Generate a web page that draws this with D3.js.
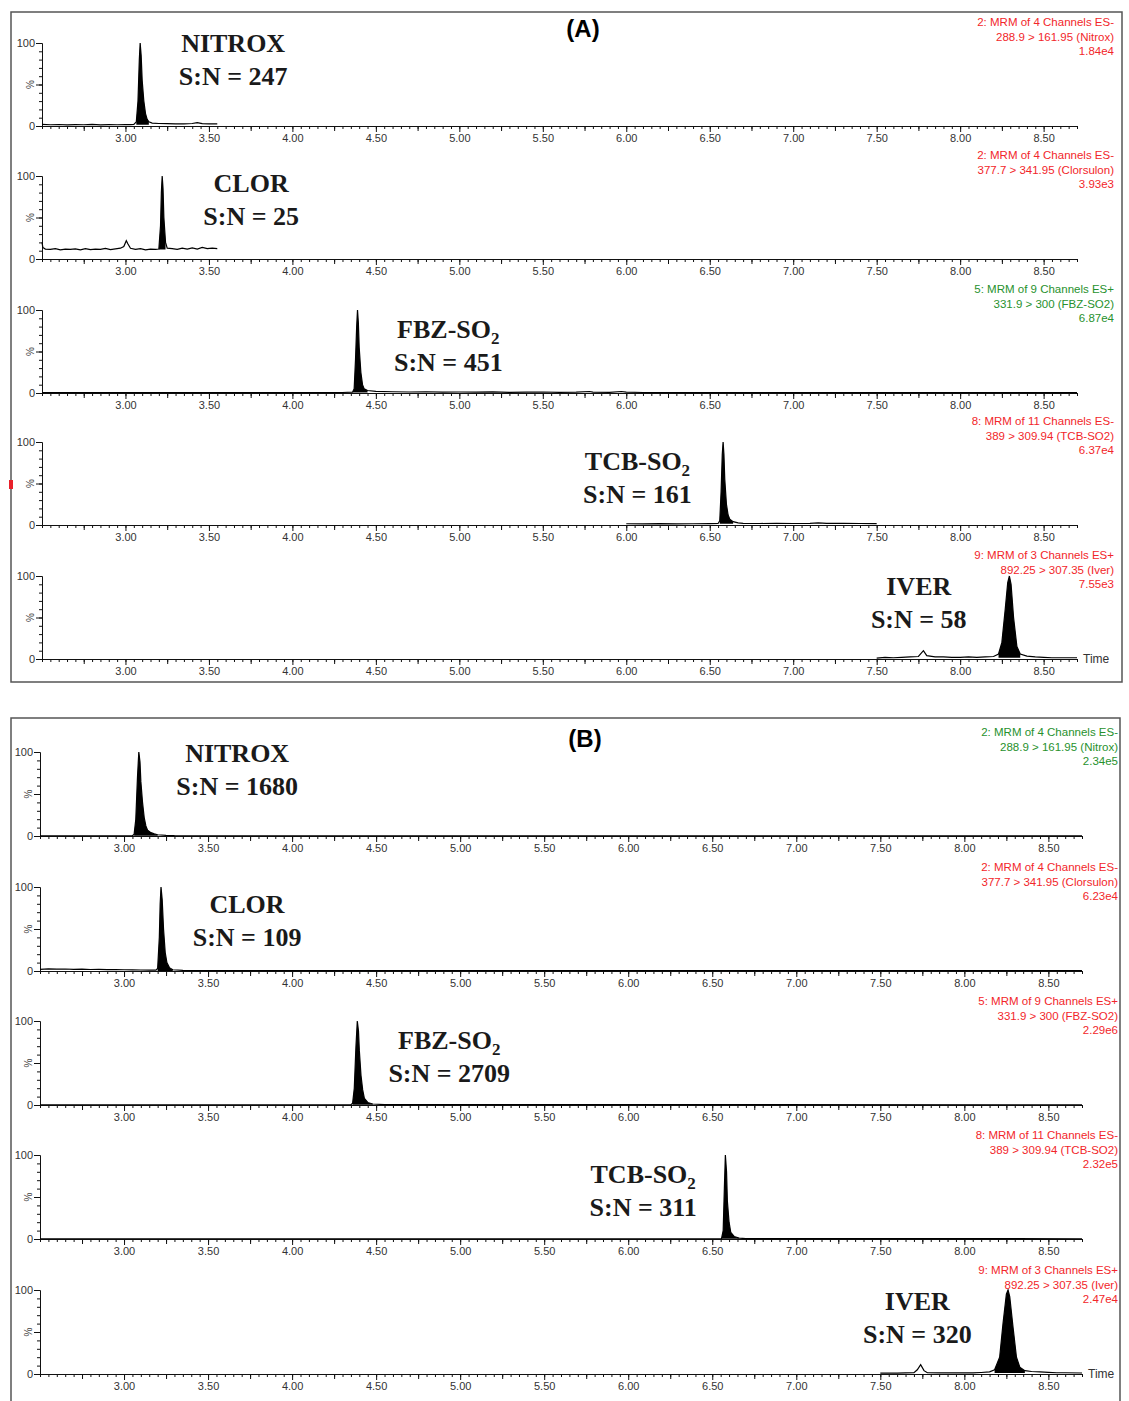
<!DOCTYPE html>
<html>
<head>
<meta charset="utf-8">
<script src="https://cdn.jsdelivr.net/npm/d3@7"></script>
<style>
  body { margin: 0; background: #fff; }
</style>
</head>
<body>
<div id="chart"></div>
<script>
// ---------- data ----------
const compounds = ["NITROX", "CLOR", "FBZ-SO2", "TCB-SO2", "IVER"];
const snA = [247, 25, 451, 161, 58];
const snB = [1680, 109, 2709, 311, 320];

const channelHeader = [
  "2: MRM of 4 Channels ES-",
  "2: MRM of 4 Channels ES-",
  "5: MRM of 9 Channels ES+",
  "8: MRM of 11 Channels ES-",
  "9: MRM of 3 Channels ES+"
];
const transitions = [
  "288.9 > 161.95 (Nitrox)",
  "377.7 > 341.95 (Clorsulon)",
  "331.9 > 300 (FBZ-SO2)",
  "389 > 309.94 (TCB-SO2)",
  "892.25 > 307.35 (Iver)"
];
const intensityA = ["1.84e4", "3.93e3", "6.87e4", "6.37e4", "7.55e3"];
const intensityB = ["2.34e5", "6.23e4", "2.29e6", "2.32e5", "2.47e4"];

const timeDomain = [2.5, 8.7];
const timeTicks = [3.0, 3.5, 4.0, 4.5, 5.0, 5.5, 6.0, 6.5, 7.0, 7.5, 8.0, 8.5];

// chromatogram traces: [time (min), % of base peak]
const traceA1 = [[2.50,2],[2.55,1.5],[2.60,1.8],[2.65,1.4],[2.70,1.7],[2.75,1.5],[2.80,1.9],[2.85,1.4],[2.90,1.6],[2.95,1.5],[3.00,1.8],[3.03,1.6],[3.05,2],[3.065,5],[3.075,30],[3.083,80],[3.088,100],[3.094,85],[3.10,55],[3.11,30],[3.12,15],[3.13,8],[3.14,5],[3.16,3.5],[3.20,3],[3.25,2.8],[3.30,2.6],[3.35,2.5],[3.40,3],[3.43,4],[3.46,2.8],[3.50,2.5],[3.55,2.5]];
const traceA2 = [[2.50,20],[2.505,14],[2.52,12],[2.55,11.5],[2.58,12.5],[2.61,11],[2.64,12],[2.67,11.5],[2.70,12.3],[2.73,11],[2.76,12.5],[2.79,11.2],[2.82,12],[2.85,11.5],[2.88,12.8],[2.91,11.3],[2.94,12.2],[2.97,13],[2.99,15],[3.005,22],[3.015,18],[3.03,13],[3.06,11.5],[3.09,12.5],[3.12,11],[3.15,12],[3.18,11.5],[3.20,12],[3.21,40],[3.215,80],[3.22,100],[3.225,85],[3.23,50],[3.24,20],[3.25,13],[3.28,12.5],[3.31,11.5],[3.34,13],[3.37,12],[3.40,13.5],[3.43,12],[3.46,14],[3.49,12.5],[3.52,13],[3.55,12.5]];
const traceA3 = [[2.50,0.5],[3.00,0.5],[3.50,0.5],[4.00,0.5],[4.30,0.6],[4.36,1],[4.37,5],[4.378,40],[4.385,80],[4.39,100],[4.395,85],[4.40,55],[4.41,25],[4.42,10],[4.43,5],[4.45,3],[4.50,2],[4.60,1.5],[4.70,1.2],[4.80,1.5],[4.90,1],[5.00,1.2],[5.10,1],[5.20,1.3],[5.30,0.8],[5.40,1],[5.50,1.2],[5.60,0.8],[5.70,1],[5.78,1.8],[5.80,1],[5.90,0.8],[5.97,1.8],[6.00,1],[6.10,0.6],[6.50,0.5],[7.00,0.5],[7.50,0.5],[8.00,0.5],[8.70,0.5]];
const traceA4 = [[6.00,1.5],[6.10,1.3],[6.20,1.6],[6.30,1.4],[6.40,1.5],[6.50,1.6],[6.55,1.8],[6.56,5],[6.568,40],[6.575,85],[6.58,100],[6.585,85],[6.59,55],[6.60,25],[6.61,12],[6.62,7],[6.64,4],[6.67,2.5],[6.70,2],[6.80,1.8],[6.90,2],[7.00,1.8],[7.10,2],[7.15,2.5],[7.20,1.9],[7.30,2],[7.40,1.8],[7.50,1.7]];
const traceA5 = [[7.50,1],[7.55,2],[7.60,1.5],[7.65,2],[7.70,2.5],[7.75,3],[7.78,10],[7.80,4],[7.85,2.5],[7.90,2.5],[7.95,2],[8.00,2],[8.05,2.5],[8.10,2],[8.15,2.5],[8.20,3],[8.23,6],[8.25,20],[8.27,60],[8.285,92],[8.295,100],[8.305,90],[8.32,50],[8.34,15],[8.36,6],[8.40,3.5],[8.45,2.5],[8.50,2],[8.55,1.5],[8.60,1.5],[8.70,1.5]];

const traceB1 = [[2.50,0.3],[3.00,0.3],[3.05,0.4],[3.06,2],[3.07,20],[3.08,70],[3.088,100],[3.095,88],[3.10,65],[3.11,40],[3.12,22],[3.13,12],[3.14,7],[3.16,4],[3.18,2.5],[3.20,1.5],[3.25,0.8],[3.30,0.5],[3.50,0.3],[8.70,0.3]];
const traceB2 = [[2.50,2],[2.55,2.5],[2.60,2.2],[2.65,2.4],[2.70,2],[2.75,2.2],[2.80,1.8],[2.85,2],[2.90,1.6],[2.95,1.8],[3.00,1.5],[3.05,1.3],[3.10,1.2],[3.15,1],[3.19,1],[3.20,3],[3.21,40],[3.215,80],[3.22,100],[3.227,85],[3.235,50],[3.245,22],[3.255,10],[3.27,4],[3.29,1.5],[3.35,0.8],[3.50,0.5],[8.70,0.5]];
const traceB3 = [[2.50,0.3],[4.00,0.3],[4.35,0.4],[4.36,2],[4.37,20],[4.38,70],[4.388,100],[4.395,88],[4.40,65],[4.41,35],[4.42,18],[4.43,8],[4.45,3],[4.48,1.2],[4.55,0.5],[8.70,0.3]];
const traceB4 = [[2.50,0.3],[6.50,0.3],[6.555,0.5],[6.565,10],[6.572,60],[6.578,100],[6.585,80],[6.59,45],[6.60,20],[6.61,8],[6.63,3],[6.66,1],[6.70,0.5],[8.70,0.3]];
const traceB5 = [[7.50,1],[7.55,1.2],[7.60,1],[7.65,1.3],[7.70,1.5],[7.72,5],[7.74,11],[7.76,4],[7.78,1.5],[7.85,1.3],[7.90,1.5],[7.95,1.3],[8.00,1.5],[8.05,1.3],[8.10,1.8],[8.15,2.5],[8.18,5],[8.21,20],[8.23,60],[8.25,95],[8.26,100],[8.27,92],[8.29,55],[8.31,20],[8.33,8],[8.36,4],[8.40,3],[8.45,2.5],[8.50,2],[8.55,1.5],[8.60,1.5],[8.70,1.2]];

// peak windows that get filled [start, end, base %]
const peaksA = [[3.06, 3.15, 1.5], [3.20, 3.245, 11.5], [4.36, 4.45, 0.5], [6.555, 6.65, 1.5], [8.22, 8.38, 1.5]];
const peaksB = [[3.055, 3.22, 0.3], [3.195, 3.29, 0], [4.355, 4.48, 0.3], [6.55, 6.67, 0.3], [8.16, 8.38, 1.2]];

// ---------- layout ----------
const W = 1129, H = 1401;
const red = "#f2262a", green = "#27912d";

const panels = [
  {
    title: "(A)", titleX: 583, titleY: 37,
    frame: [11, 12, 1111, 670],
    x0: 42, x1: 1077, rowTops: [43, 176, 310, 442, 576], rowH: 83,
    textRight: 1114, headerDy: -17,
    colors: [red, red, green, red, red],
    traces: [traceA1, traceA2, traceA3, traceA4, traceA5],
    peaks: peaksA, sn: snA, intensity: intensityA,
    labelT: [3.645, 3.753, 4.934, 6.067, 7.752],
    labelDy: [9, 16, 28, 28, 19]
  },
  {
    title: "(B)", titleX: 585, titleY: 747,
    frame: [11, 718, 1109, 700],
    x0: 40, x1: 1082, rowTops: [752, 887, 1021, 1155, 1290], rowH: 84,
    textRight: 1118, headerDy: -16,
    colors: [green, red, red, red, red],
    traces: [traceB1, traceB2, traceB3, traceB4, traceB5],
    peaks: peaksB, sn: snB, intensity: intensityB,
    labelT: [3.673, 3.732, 4.935, 6.089, 7.720],
    labelDy: [10, 26, 28, 28, 20]
  }
];

const sans = "'Liberation Sans', Arial, sans-serif";
const serif = "'Liberation Serif', 'Times New Roman', serif";

let svg = d3
  .select("#chart")
  .append("svg")
  .attr("width", W)
  .attr("height", H)
  .style("background", "#fff");

// minor / medium tick positions along the time axis
const minorTicks = d3.range(0, 125).map((i) => +(2.5 + i * 0.05).toFixed(2));
const mediumTicks = d3.range(0, 12).map((i) => 2.75 + i * 0.5);

panels.forEach(function (P) {
  // frame
  svg
    .append("rect")
    .attr("x", P.frame[0])
    .attr("y", P.frame[1])
    .attr("width", P.frame[2])
    .attr("height", P.frame[3])
    .attr("fill", "none")
    .attr("stroke", "#555")
    .attr("stroke-width", 1.5);

  svg
    .append("text")
    .attr("x", P.titleX)
    .attr("y", P.titleY)
    .attr("text-anchor", "middle")
    .style("font-family", sans)
    .style("font-weight", "bold")
    .style("font-size", "24px")
    .text(P.title);

  P.rowTops.forEach(function (top, i) {
    let x = d3.scaleLinear().domain(timeDomain).range([P.x0, P.x1]);
    let y = d3.scaleLinear().domain([0, 100]).range([top + P.rowH, top]);
    let g = svg.append("g");

    // x axis: minor, medium, then labelled major ticks
    g.append("g")
      .attr("transform", `translate(0,${top + P.rowH})`)
      .call(d3.axisBottom(x).tickValues(minorTicks).tickSize(3).tickSizeOuter(0).tickFormat(""));
    g.append("g")
      .attr("transform", `translate(0,${top + P.rowH})`)
      .call(d3.axisBottom(x).tickValues(mediumTicks).tickSize(5).tickSizeOuter(0).tickFormat(""));
    g.append("g")
      .attr("transform", `translate(0,${top + P.rowH})`)
      .call(d3.axisBottom(x).tickValues(timeTicks).tickSize(6).tickSizeOuter(0).tickPadding(2).tickFormat(d3.format(".2f")));

    // y axis
    g.append("g")
      .attr("transform", `translate(${P.x0},0)`)
      .call(d3.axisLeft(y).tickValues(d3.range(10, 100, 10)).tickSize(3).tickSizeOuter(0).tickFormat(""));
    g.append("g")
      .attr("transform", `translate(${P.x0},0)`)
      .call(d3.axisLeft(y).tickValues([0, 50, 100]).tickSize(6).tickSizeOuter(0).tickPadding(1)
        .tickFormat((d) => (d === 50 ? "" : d)));

    g.selectAll(".domain, .tick line").attr("stroke", "#111").attr("stroke-width", 1);
    g.selectAll(".tick text")
      .style("font-family", sans)
      .style("font-size", "11px")
      .attr("fill", "#333");

    g.append("text")
      .attr("transform", `translate(${P.x0 - 7},${y(50)}) rotate(-90)`)
      .attr("text-anchor", "middle")
      .attr("dy", "-0.1em")
      .style("font-family", sans)
      .style("font-size", "10px")
      .attr("fill", "#444")
      .text("%");

    // trace
    let data = P.traces[i];
    let pk = P.peaks[i];
    let peakPts = data.filter((d) => d[0] >= pk[0] && d[0] <= pk[1]);
    g.append("path")
      .datum(peakPts)
      .attr("fill", "#000")
      .attr(
        "d",
        d3.area().x((d) => x(d[0])).y0(y(pk[2])).y1((d) => y(d[1]))
      );
    g.append("path")
      .datum(data)
      .attr("fill", "none")
      .attr("stroke", "#000")
      .attr("stroke-width", 1.2)
      .attr("d", d3.line().x((d) => x(d[0])).y((d) => y(d[1])));

    // channel header (top right)
    let hdr = [channelHeader[i], transitions[i], P.intensity[i]];
    hdr.forEach(function (t, k) {
      g.append("text")
        .attr("x", P.textRight)
        .attr("y", top + P.headerDy + k * 14.5)
        .attr("text-anchor", "end")
        .style("font-family", sans)
        .style("font-size", "11.5px")
        .attr("fill", P.colors[i])
        .text(t);
    });

    // compound label + S:N
    let name = compounds[i];
    let lbl = g
      .append("text")
      .attr("x", x(P.labelT[i]))
      .attr("y", top + P.labelDy[i])
      .attr("text-anchor", "middle")
      .style("font-family", serif)
      .style("font-weight", "bold")
      .style("font-size", "26px")
      .attr("fill", "#1a1a1a");
    if (name.endsWith("2")) {
      lbl.append("tspan").text(name.slice(0, -1));
      lbl.append("tspan").attr("dy", 6).style("font-size", "17px").text("2");
    } else {
      lbl.text(name);
    }
    g.append("text")
      .attr("x", x(P.labelT[i]))
      .attr("y", top + P.labelDy[i] + 33)
      .attr("text-anchor", "middle")
      .style("font-family", serif)
      .style("font-weight", "bold")
      .style("font-size", "26px")
      .attr("fill", "#1a1a1a")
      .text(`S:N = ${P.sn[i]}`);

    // "Time" at the end of the last axis
    if (i === 4) {
      g.append("text")
        .attr("x", P.x1 + 6)
        .attr("y", top + P.rowH + 4)
        .style("font-family", sans)
        .style("font-size", "12px")
        .attr("fill", "#333")
        .text("Time");
    }
  });
});

// small red marker on the left edge of panel A
svg.append("rect").attr("x", 9).attr("y", 480).attr("width", 4).attr("height", 9).attr("fill", "#e8202a");
</script>
</body>
</html>
